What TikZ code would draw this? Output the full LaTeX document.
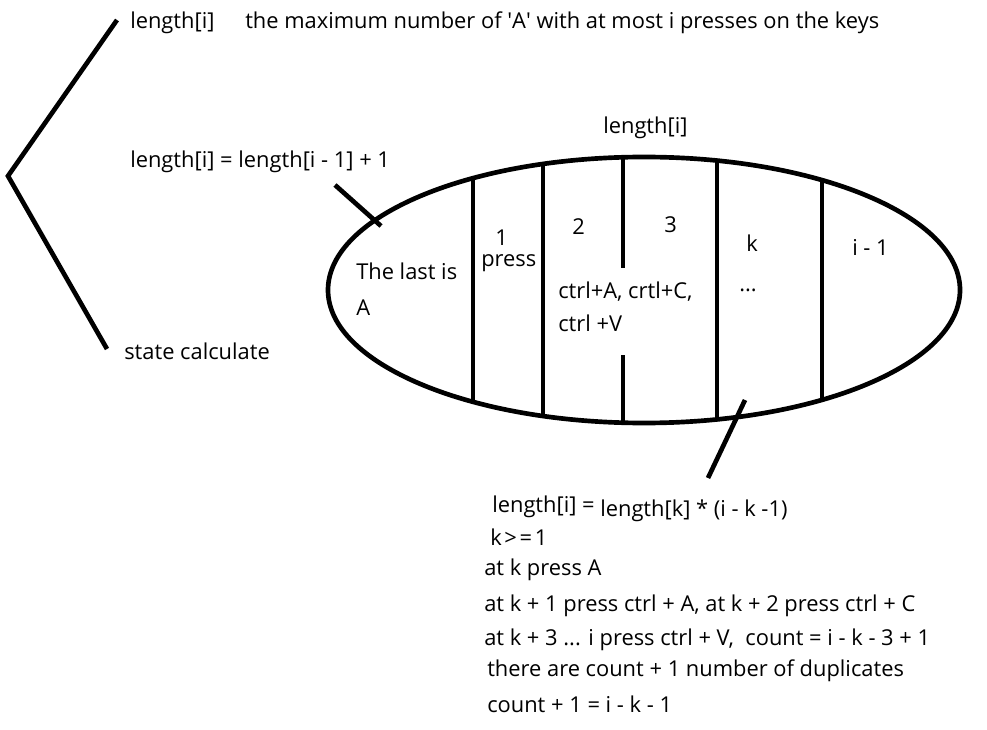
\documentclass[tikz,border=0pt]{standalone}
\usepackage{fontspec}
\setmainfont{Open Sans}

\begin{document}
\begin{tikzpicture}[x=0.75pt,y=-0.75pt,stroke/.style={line width=3.5pt},
  lab/.style={anchor=base west,inner sep=0pt,font=\fontsize{16.4}{18}\selectfont}]
  \useasboundingbox[fill=white] (0,0) rectangle (987,730);

  % left bracket
  \coordinate (brtop) at (117,20);
  \coordinate (brmid) at (8,176);
  \coordinate (brbot) at (107,349);
  \draw[stroke,line join=miter] (brtop) -- (brmid) -- (brbot);

  \node[lab] (len) at (130,29) {length[i]};
  \node[lab] (meaning) at (245,29) {the maximum number of \textquotesingle A\textquotesingle\ with at most i presses on the keys};
  \node[lab] (rec) at (130,168) {length[i] = length[i - 1] + 1};
  \node[lab] (state) at (124,359) {state calculate};
  \node[lab] (top) at (603,134) {length[i]};

  % the ellipse and its parts
  \draw[stroke] (644,290) ellipse [x radius=316,y radius=133];
  \begin{scope}
    \clip (644,290) ellipse [x radius=316,y radius=133];
    \foreach \x in {473,543,717,822} \draw[stroke] (\x,150) -- (\x,430);
    \draw[stroke] (623,150) -- (623,268) (623,355) -- (623,430);
  \end{scope}

  \node[lab] (last) at (356,280) {The last is};
  \node[lab] (lastA) at (356,316) {A};
  \node[lab] (one) at (495,246) {1};
  \node[lab] (press) at (481,267) {press};
  \node[lab] (two) at (572,235) {2};
  \node[lab] (three) at (664,233) {3};
  \node[lab] (kk) at (746,252) {k};
  \node[lab] (dots) at (739,292) {...};
  \node[lab] (imin) at (852,256) {i - 1};
  \node[lab] (copy) at (558,299) {ctrl+A, crtl+C,};
  \node[lab] (paste) at (558,332) {ctrl +V};

  % pointers to the ellipse
  \coordinate (p1a) at (335,185);
  \coordinate (p1b) at (381,226);
  \coordinate (p2a) at (745,400);
  \coordinate (p2b) at (708,478);
  \draw[stroke] (p1a) -- (p1b);
  \draw[stroke] (p2a) -- (p2b);

  \node[lab] (res) at (492,512) {length[i] =};
  \node[lab] (resr) at (600,516) {length[k] * (i - k -1)};
  \node[lab] (cond) at (490,545) {k\kern2pt>\kern2pt=\kern2pt1};
  \node[lab] (s1) at (484,575) {at k press A};
  \node[lab] (s2) at (484,611) {at k + 1 press ctrl + A, at k + 2 press ctrl + C};
  \node[lab] (s3) at (484,645) {at k + 3 ... i press ctrl + V,\ \ count = i - k - 3 + 1};
  \node[lab] (s4) at (487,676) {there are count + 1 number of duplicates};
  \node[lab] (s5) at (487,712) {count + 1 = i - k - 1};
\end{tikzpicture}
\end{document}
